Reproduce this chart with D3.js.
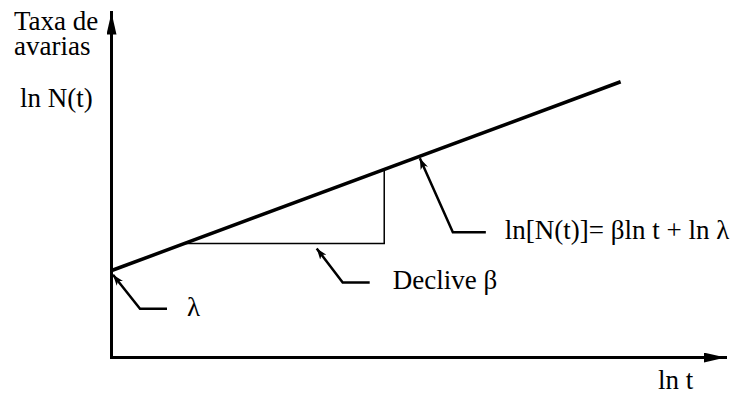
<!DOCTYPE html>
<html>
<head>
<meta charset="utf-8">
<script src="https://cdn.jsdelivr.net/npm/d3@7"></script>
<style>
  html, body { margin: 0; padding: 0; background: #fff; }
  svg { display: block; }
</style>
</head>
<body>
<svg id="chart" width="747" height="394"></svg>
<script>
// Weibull-type failure model on log-log axes: ln N(t) = beta * ln t + ln lambda
const lnTDomain = [0, 10];
const lnNDomain = [0, 10];
const beta = 0.66;
const lnLambda = 2.5;
const lnTLine = [0, 8.3];           // extent of the fitted line
const slopeTriangle = [1.2, 4.45];  // run of the slope triangle
const yLabelLines = ["Taxa de", "avarias"];
const yLabelFormula = "ln N(t)";
const xLabel = "ln t";
const lambdaLabel = "λ";
const slopeLabel = "Declive β";
const equationLabel = "ln[N(t)]= βln t + ln λ";

const svg = d3.select("#chart");
const FS = 27;
const SERIF = "'Liberation Serif', 'Times New Roman', Times, 'DejaVu Serif', serif";
const x = d3.scaleLinear().domain(lnTDomain).range([111, 725]);
const y = d3.scaleLinear().domain(lnNDomain).range([357, 12]);
const lnN = t => beta * t + lnLambda;

const addText = (px, py) => svg.append("text")
  .attr("x", px).attr("y", py)
  .attr("font-family", SERIF).style("font-family", SERIF)
  .attr("font-size", FS).attr("fill", "#000");

// arrowheads
const defs = svg.append("defs");
defs.append("marker")
  .attr("id", "axisHead").attr("markerUnits", "userSpaceOnUse")
  .attr("viewBox", "0 -5 22 10").attr("refX", 22).attr("refY", 0)
  .attr("markerWidth", 22).attr("markerHeight", 10).attr("orient", "auto")
  .append("path").attr("d", "M0,-5L22,0L0,5Z").attr("fill", "#000");
defs.append("marker")
  .attr("id", "calloutHead").attr("markerUnits", "userSpaceOnUse")
  .attr("viewBox", "0 -4 11 8").attr("refX", 11).attr("refY", 0)
  .attr("markerWidth", 11).attr("markerHeight", 8).attr("orient", "auto")
  .append("path").attr("d", "M0,-4L11,0L0,4L3,0Z").attr("fill", "#000");

// axes (no ticks, arrow at the end of each domain line)
const xAxis = svg.append("g").attr("transform", `translate(0,${y(0)})`)
  .call(d3.axisBottom(x).tickValues([]).tickSizeOuter(0));
const yAxis = svg.append("g").attr("transform", `translate(${x(0)},0)`)
  .call(d3.axisLeft(y).tickValues([]).tickSizeOuter(0));
[xAxis, yAxis].forEach(g => g.select(".domain")
  .attr("stroke", "#000").attr("stroke-width", 3)
  .attr("stroke-linecap", "square")
  .attr("marker-end", "url(#axisHead)"));

// slope triangle
const [t1, t2] = slopeTriangle;
svg.append("path")
  .attr("d", d3.line()([[x(t1), y(lnN(t1))], [x(t2), y(lnN(t1))], [x(t2), y(lnN(t2))]]))
  .attr("fill", "none").attr("stroke", "#000").attr("stroke-width", 1.5);

// fitted line
svg.append("path")
  .datum(lnTLine)
  .attr("d", d3.line().x(t => x(t)).y(t => y(lnN(t))))
  .attr("fill", "none").attr("stroke", "#000").attr("stroke-width", 3.5);

// callouts: tip anchored on the chart, elbow and tail offsets in pixels
const callouts = [
  { tip: [x(0) + 2, y(lnLambda) + 4], elbow: [27, 34], tail: 27, text: lambdaLabel, tx: 20, ty: 7 },
  { tip: [x(3.35), y(lnN(t1)) + 5], elbow: [26, 34], tail: 27, text: slopeLabel, tx: 23, ty: 7 },
  { tip: [x(5.03), y(lnN(5.03)) + 2], elbow: [33, 74], tail: 33, text: equationLabel, tx: 19, ty: 7 }
];
callouts.forEach(c => {
  const [tx0, ty0] = c.tip;
  const ex = tx0 + c.elbow[0], ey = ty0 + c.elbow[1];
  svg.append("path")
    .attr("d", `M${ex + c.tail},${ey}H${ex}L${tx0},${ty0}`)
    .attr("fill", "none").attr("stroke", "#000").attr("stroke-width", 2.5)
    .attr("marker-end", "url(#calloutHead)");
  addText(ex + c.tail + c.tx, ey + c.ty).text(c.text);
});

// axis titles
const yTitle = addText(14, 30);
yLabelLines.forEach((s, i) =>
  yTitle.append("tspan").attr("x", 14).attr("y", 30 + i * 25).text(s));
addText(20, 107).text(yLabelFormula);
addText(658, 389).text(xLabel);
</script>
</body>
</html>
